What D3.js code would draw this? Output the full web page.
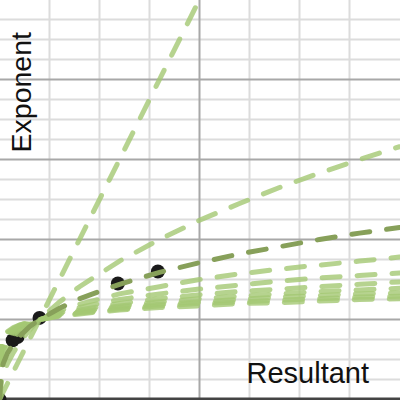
<!DOCTYPE html>
<html><head><meta charset="utf-8">
<script src="https://cdn.jsdelivr.net/npm/d3@7"></script>
<style>html,body{margin:0;padding:0;background:#fff;}svg{display:block;}</style>
</head><body>
<script>
// sample x positions (Resultant)
const xs = [0, 0.05, 0.1, 0.2, 0.35, 0.5, 0.75, 1, 1.5, 2, 3, 4, 5, 6, 7, 8, 9, 10];
// series values (Exponent)
const s1 = [0, 0.05, 0.1, 0.2, 0.35, 0.5, 0.75, 1, 1.5, 2, 3, 4, 5];
const s2 = [0, 0.22, 0.32, 0.45, 0.59, 0.71, 0.87, 1, 1.22, 1.41, 1.73, 2, 2.24, 2.45, 2.65, 2.83, 3, 3.16];
const s3 = [0, 0.37, 0.46, 0.58, 0.70, 0.79, 0.91, 1, 1.14, 1.26, 1.44, 1.59, 1.71, 1.82, 1.91, 2, 2.08, 2.15];
const s4 = [0, 0.47, 0.56, 0.67, 0.77, 0.84, 0.93, 1, 1.11, 1.19, 1.32, 1.41, 1.50, 1.57, 1.63, 1.68, 1.73, 1.78];
const s5 = [0, 0.55, 0.63, 0.72, 0.81, 0.87, 0.94, 1, 1.08, 1.15, 1.25, 1.32, 1.38, 1.43, 1.48, 1.52, 1.55, 1.58];
const s6 = [0, 0.61, 0.68, 0.76, 0.84, 0.89, 0.95, 1, 1.07, 1.12, 1.20, 1.26, 1.31, 1.35, 1.38, 1.41, 1.44, 1.47];
const s7 = [0, 0.65, 0.72, 0.80, 0.86, 0.91, 0.96, 1, 1.06, 1.10, 1.17, 1.22, 1.26, 1.29, 1.32, 1.35, 1.37, 1.39];
const s8 = [0, 0.69, 0.75, 0.82, 0.88, 0.92, 0.96, 1, 1.05, 1.09, 1.15, 1.19, 1.22, 1.25, 1.28, 1.30, 1.32, 1.33];
const s9 = [0, 0.72, 0.77, 0.84, 0.89, 0.93, 0.97, 1, 1.05, 1.08, 1.13, 1.17, 1.20, 1.22, 1.24, 1.26, 1.28, 1.29];
const s10 = [0, 0.74, 0.79, 0.85, 0.90, 0.93, 0.97, 1, 1.04, 1.07, 1.12, 1.15, 1.17, 1.20, 1.21, 1.23, 1.25, 1.26];
const lightSeries = [s1, s2, s4, s5, s6, s7, s8, s9, s10];
const darkSeries = s3;
// highlighted points
const dotX = [0, 0.33, 0.45, 1, 2.96, 3.96];
const dotY = [0, 0.74, 0.78, 1.02, 1.45, 1.6];
// grid ticks
const xMinor = [1.25, 2.5, 3.75, 6.25, 7.5, 8.75];
const xMajor = [5];
const yMinor = [0.25, 0.5, 0.75, 1.25, 1.5, 1.75, 2.25, 2.5, 2.75, 3.25, 3.5, 3.75, 4.25, 4.5, 4.75];
const yMajor = [1, 2, 3, 4];
const xTitle = "Resultant";
const yTitle = "Exponent";

const W = 400, H = 400;
const svg = d3.select("body").append("svg").attr("width", W).attr("height", H);
const x = d3.scaleLinear().domain([0, 10]).range([-0.5, 399.5]);
const y = d3.scaleLinear().domain([0, 5]).range([399.5, -0.5]);

const grid = svg.append("g");
grid.selectAll(".xmin").data(xMinor).join("line")
  .attr("x1", d => x(d)).attr("x2", d => x(d)).attr("y1", 0).attr("y2", H)
  .attr("stroke", "#dcdcdc").attr("stroke-width", 2);
grid.selectAll(".ymin").data(yMinor).join("line")
  .attr("y1", d => y(d)).attr("y2", d => y(d)).attr("x1", 0).attr("x2", W)
  .attr("stroke", "#dcdcdc").attr("stroke-width", 2);
grid.selectAll(".xmaj").data(xMajor).join("line")
  .attr("x1", d => x(d)).attr("x2", d => x(d)).attr("y1", 0).attr("y2", H)
  .attr("stroke", "#a8a8a8").attr("stroke-width", 2);
grid.selectAll(".ymaj").data(yMajor).join("line")
  .attr("y1", d => y(d)).attr("y2", d => y(d)).attr("x1", 0).attr("x2", W)
  .attr("stroke", "#a8a8a8").attr("stroke-width", 2);
// bottom axis
svg.append("line").attr("x1", 0).attr("x2", W).attr("y1", y(0) - 0.5).attr("y2", y(0) - 0.5)
  .attr("stroke", "#444").attr("stroke-width", 3);

// dots
svg.append("g").selectAll("circle").data(dotX).join("circle")
  .attr("cx", d => x(d)).attr("cy", (d, i) => y(dotY[i])).attr("r", 7).attr("fill", "#1a1a1a");

const line = d3.line().x((d, i) => x(xs[i])).y(d => y(d));
svg.append("g").selectAll("path").data(lightSeries).join("path")
  .attr("d", d => line(d)).attr("fill", "none")
  .attr("stroke", "#a4c873").attr("stroke-opacity", 0.8).attr("stroke-width", 5)
  .attr("stroke-dasharray", "18,17").attr("stroke-linecap", "round");
svg.append("path").attr("d", line(darkSeries)).attr("fill", "none")
  .attr("stroke", "#87a05a").attr("stroke-width", 5)
  .attr("stroke-dasharray", "18,17").attr("stroke-linecap", "round");

svg.append("text").attr("x", 369).attr("y", 383).attr("text-anchor", "end")
  .attr("font-family", "Liberation Sans, Arial, sans-serif").attr("font-size", 29).attr("fill", "#111").text(xTitle);
svg.append("text").attr("transform", "translate(31,32) rotate(-90)").attr("text-anchor", "end")
  .attr("font-family", "Liberation Sans, Arial, sans-serif").attr("font-size", 28.5).attr("fill", "#111").text(yTitle);
</script>
</body></html>
